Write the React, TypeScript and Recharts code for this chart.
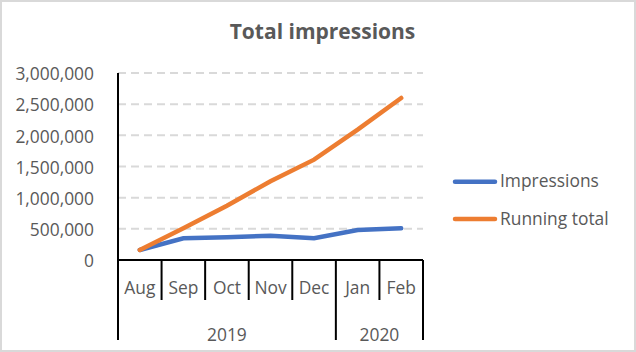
import React from 'react';
import { LineChart, Line, XAxis, YAxis, CartesianGrid, Legend, Customized } from 'recharts';

const title = 'Total impressions';
const months = ['Aug', 'Sep', 'Oct', 'Nov', 'Dec', 'Jan', 'Feb'];
const years = ['2019', '2019', '2019', '2019', '2019', '2020', '2020'];
const impressions = [160000, 348000, 364000, 390000, 348000, 481000, 508000];
const runningTotal = [160000, 508000, 872000, 1262000, 1610000, 2091000, 2599000];
const yTicks = [0, 500000, 1000000, 1500000, 2000000, 2500000, 3000000];
const seriesNames = ['Impressions', 'Running total'];
const seriesColors = ['#4472C4', '#ED7D31'];

const data = months.map((m, i) => ({
  month: m,
  year: years[i],
  impressions: impressions[i],
  runningTotal: runningTotal[i],
}));

const W = 636;
const H = 352;
const PLOT_L = 118;
const PLOT_R = 423;
const PLOT_T = 73;
const PLOT_B = 260;
const BAND = (PLOT_R - PLOT_L) / months.length;
const FONT = '"Open Sans", sans-serif';
const TEXT = '#595959';
const FS = 17.4;

function MonthTick(props: any) {
  const { x, y, payload } = props;
  const i = payload.index;
  const left = x - BAND / 2;
  const right = x + BAND / 2;
  const firstOfYear = i === 0 || years[i] !== years[i - 1];
  const last = i === months.length - 1;
  let yearLabel = null;
  if (firstOfYear) {
    let n = 1;
    while (i + n < years.length && years[i + n] === years[i]) n++;
    yearLabel = (
      <text x={left + (n * BAND) / 2} y={y + 81} textAnchor="middle" fill={TEXT} fontSize={FS} fontFamily={FONT}>
        {years[i]}
      </text>
    );
  }
  return (
    <g>
      <line x1={left} x2={left} y1={y} y2={y + (firstOfYear ? 80 : 40)} stroke="#000" strokeWidth={2} />
      {last && <line x1={right} x2={right} y1={y} y2={y + 80} stroke="#000" strokeWidth={2} />}
      <text x={x} y={y + 34} textAnchor="middle" fill={TEXT} fontSize={FS} fontFamily={FONT}>
        {payload.value}
      </text>
      {yearLabel}
    </g>
  );
}

function LegendContent() {
  const rows = [
    { lineY: 13.7, textY: 19 },
    { lineY: 51, textY: 57 },
  ];
  return (
    <svg width={180} height={64} style={{ display: 'block' }}>
      {seriesNames.map((name, i) => (
        <g key={name}>
          <line x1={3} x2={43} y1={rows[i].lineY} y2={rows[i].lineY} stroke={seriesColors[i]} strokeWidth={4.5} strokeLinecap="round" />
          <text x={48} y={rows[i].textY} fill={TEXT} fontSize={FS} fontFamily={FONT}>
            {name}
          </text>
        </g>
      ))}
    </svg>
  );
}

function Title() {
  return (
    <text x={322.5} y={39} textAnchor="middle" fill={TEXT} fontSize={21} fontWeight="bold" fontFamily={FONT}>
      {title}
    </text>
  );
}

export default function App() {
  return (
    <div style={{ position: 'absolute', left: 0, top: 0, width: W, height: H, background: '#fff' }}>
      <LineChart
        width={W}
        height={H}
        data={data}
        margin={{ top: PLOT_T, right: W - PLOT_R, left: 0, bottom: 0 }}
      >
        <CartesianGrid vertical={false} stroke="#d9d9d9" strokeWidth={2} strokeDasharray="8 5" />
        <YAxis
          width={PLOT_L}
          domain={[0, 3000000]}
          ticks={yTicks}
          interval={0}
          tickFormatter={(v: number) => v.toLocaleString('en-US')}
          axisLine={{ stroke: '#000', strokeWidth: 2 }}
          tickLine={false}
          tickSize={0}
          tickMargin={24}
          tick={{ fill: TEXT, fontSize: FS, fontFamily: FONT, dy: 1 }}
        />
        <XAxis
          dataKey="month"
          scale="band"
          height={H - PLOT_B}
          interval={0}
          axisLine={{ stroke: '#000', strokeWidth: 2 }}
          tickLine={false}
          tickSize={0}
          tickMargin={0}
          tick={(p: any) => <MonthTick {...p} />}
        />
        <Line
          type="linear"
          dataKey="impressions"
          name={seriesNames[0]}
          stroke={seriesColors[0]}
          strokeWidth={4.5}
          strokeLinecap="round"
          dot={false}
          isAnimationActive={false}
        />
        <Line
          type="linear"
          dataKey="runningTotal"
          name={seriesNames[1]}
          stroke={seriesColors[1]}
          strokeWidth={4.5}
          strokeLinecap="round"
          dot={false}
          isAnimationActive={false}
        />
        <Legend
          layout="vertical"
          align="center"
          verticalAlign="middle"
          wrapperStyle={{ left: 452, top: 168, width: 180, height: 64 }}
          content={() => <LegendContent />}
        />
        <Customized component={Title} />
      </LineChart>
      <div
        style={{
          position: 'absolute',
          left: 0,
          top: 0,
          width: W,
          height: H,
          boxSizing: 'border-box',
          border: '2px solid #d9d9d9',
          pointerEvents: 'none',
        }}
      />
    </div>
  );
}
